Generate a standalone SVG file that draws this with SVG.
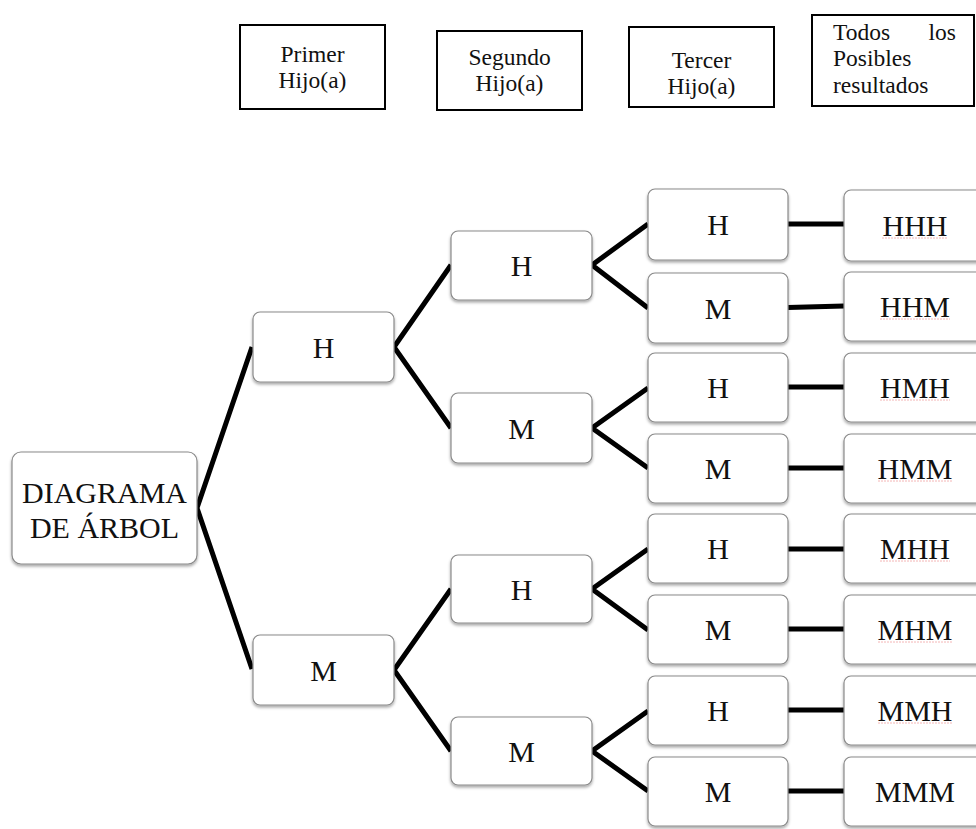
<svg xmlns="http://www.w3.org/2000/svg" width="976" height="829" viewBox="0 0 976 829">
<defs>
<filter id="sh" x="-10%" y="-10%" width="120%" height="130%">
<feDropShadow dx="0" dy="2" stdDeviation="1.6" flood-color="#000" flood-opacity="0.35"/>
</filter>
<style>
.hdr{fill:#fff;stroke:#000;stroke-width:2}
.ht{font-family:"Liberation Serif",serif;font-size:23.5px;fill:#111}
.nd{fill:#fff;stroke:#8a8a8a;stroke-width:1.2;filter:url(#sh)}
.nt{font-family:"Liberation Serif",serif;font-size:30px;fill:#111;text-anchor:middle}
.rt{font-family:"Liberation Serif",serif;font-size:30px;fill:#111;text-anchor:middle}
.cn{stroke:#000;stroke-width:5;fill:none;stroke-linecap:butt;stroke-linejoin:miter}
.sp{stroke:#f4b6b6;stroke-width:1;stroke-dasharray:2 1}
</style>
</defs>
<rect width="976" height="829" fill="#fff"/>

<g id="headers">
<g id="h1"><rect class="hdr" x="240" y="25" width="145" height="84"/>
<text class="ht" x="312.5" y="62" text-anchor="middle">Primer</text>
<text class="ht" x="312.5" y="88" text-anchor="middle">Hijo(a)</text></g>
<g id="h2"><rect class="hdr" x="437" y="31" width="145" height="79"/>
<text class="ht" x="509.5" y="65" text-anchor="middle">Segundo</text>
<text class="ht" x="509.5" y="91" text-anchor="middle">Hijo(a)</text></g>
<g id="h3"><rect class="hdr" x="629" y="27" width="145" height="80"/>
<text class="ht" x="701.5" y="68" text-anchor="middle">Tercer</text>
<text class="ht" x="701.5" y="94" text-anchor="middle">Hijo(a)</text></g>
<g id="h4"><rect class="hdr" x="812" y="15" width="162" height="91"/>
<text class="ht" x="833" y="40">Todos</text>
<text class="ht" x="956" y="40" text-anchor="end">los</text>
<text class="ht" x="833" y="66">Posibles</text>
<text class="ht" x="833" y="93">resultados</text></g>
</g>

<g id="connectors">
<polyline class="cn" points="252,347 197,508 252,669"/>
<polyline class="cn" points="451,265 394,347 451,428"/>
<polyline class="cn" points="451,589 394,670 451,751"/>
<polyline class="cn" points="648,224 592,265 648,308"/>
<polyline class="cn" points="648,388 592,428 648,468"/>
<polyline class="cn" points="648,549 592,589 648,630"/>
<polyline class="cn" points="648,711 592,751 648,791"/>
<line class="cn" x1="788" y1="224" x2="844" y2="224"/>
<line class="cn" x1="788" y1="307.5" x2="844" y2="306"/>
<line class="cn" x1="788" y1="387" x2="844" y2="387"/>
<line class="cn" x1="788" y1="468" x2="844" y2="468"/>
<line class="cn" x1="788" y1="549" x2="844" y2="549"/>
<line class="cn" x1="788" y1="629" x2="844" y2="629"/>
<line class="cn" x1="788" y1="710" x2="844" y2="710"/>
<line class="cn" x1="788" y1="791" x2="844" y2="791"/>
</g>

<g id="root"><rect class="nd" x="12" y="452" width="185" height="112" rx="9"/>
<text class="rt" x="104.5" y="503">DIAGRAMA</text>
<text class="rt" x="104.5" y="538">DE ÁRBOL</text></g>

<g id="n1H"><rect class="nd" x="253" y="312" width="141" height="70" rx="7"/><text class="nt" x="323.5" y="357.5">H</text></g>
<g id="n1M"><rect class="nd" x="253" y="635" width="141" height="70" rx="7"/><text class="nt" x="323.5" y="680.5">M</text></g>

<g id="n2HH"><rect class="nd" x="451" y="231" width="141" height="69" rx="7"/><text class="nt" x="521.5" y="275.5">H</text></g>
<g id="n2HM"><rect class="nd" x="451" y="393" width="141" height="70" rx="7"/><text class="nt" x="521.5" y="438.5">M</text></g>
<g id="n2MH"><rect class="nd" x="451" y="555" width="141" height="68" rx="7"/><text class="nt" x="521.5" y="599.5">H</text></g>
<g id="n2MM"><rect class="nd" x="451" y="717" width="141" height="68" rx="7"/><text class="nt" x="521.5" y="761.5">M</text></g>

<g id="n3_1"><rect class="nd" x="648" y="189" width="140" height="71" rx="7"/><text class="nt" x="718" y="234.5">H</text></g>
<g id="n3_2"><rect class="nd" x="648" y="273" width="140" height="70" rx="7"/><text class="nt" x="718" y="318.5">M</text></g>
<g id="n3_3"><rect class="nd" x="648" y="353" width="140" height="69" rx="7"/><text class="nt" x="718" y="397.5">H</text></g>
<g id="n3_4"><rect class="nd" x="648" y="434" width="140" height="69" rx="7"/><text class="nt" x="718" y="478.5">M</text></g>
<g id="n3_5"><rect class="nd" x="648" y="514" width="140" height="69" rx="7"/><text class="nt" x="718" y="558.5">H</text></g>
<g id="n3_6"><rect class="nd" x="648" y="595" width="140" height="69" rx="7"/><text class="nt" x="718" y="639.5">M</text></g>
<g id="n3_7"><rect class="nd" x="648" y="676" width="140" height="69" rx="7"/><text class="nt" x="718" y="720.5">H</text></g>
<g id="n3_8"><rect class="nd" x="648" y="757" width="140" height="69" rx="7"/><text class="nt" x="718" y="801.5">M</text></g>

<g id="r1"><rect class="nd" x="844" y="190" width="145" height="71" rx="7"/><text class="nt" x="915" y="235.5">HHH</text><line class="sp" x1="882" y1="238" x2="948" y2="238"/></g>
<g id="r2"><rect class="nd" x="844" y="272" width="145" height="69" rx="7"/><text class="nt" x="915" y="316.5">HHM</text><line class="sp" x1="880" y1="319" x2="950" y2="319"/></g>
<g id="r3"><rect class="nd" x="844" y="353" width="145" height="69" rx="7"/><text class="nt" x="915" y="397.5">HMH</text><line class="sp" x1="880" y1="400" x2="950" y2="400"/></g>
<g id="r4"><rect class="nd" x="844" y="434" width="145" height="69" rx="7"/><text class="nt" x="915" y="478.5">HMM</text><line class="sp" x1="878" y1="481" x2="952" y2="481"/></g>
<g id="r5"><rect class="nd" x="844" y="514" width="145" height="69" rx="7"/><text class="nt" x="915" y="558.5">MHH</text><line class="sp" x1="880" y1="561" x2="950" y2="561"/></g>
<g id="r6"><rect class="nd" x="844" y="595" width="145" height="69" rx="7"/><text class="nt" x="915" y="639.5">MHM</text><line class="sp" x1="878" y1="642" x2="952" y2="642"/></g>
<g id="r7"><rect class="nd" x="844" y="676" width="145" height="69" rx="7"/><text class="nt" x="915" y="720.5">MMH</text><line class="sp" x1="878" y1="723" x2="952" y2="723"/></g>
<g id="r8"><rect class="nd" x="844" y="757" width="145" height="69" rx="7"/><text class="nt" x="915" y="801.5">MMM</text></g>
</svg>
